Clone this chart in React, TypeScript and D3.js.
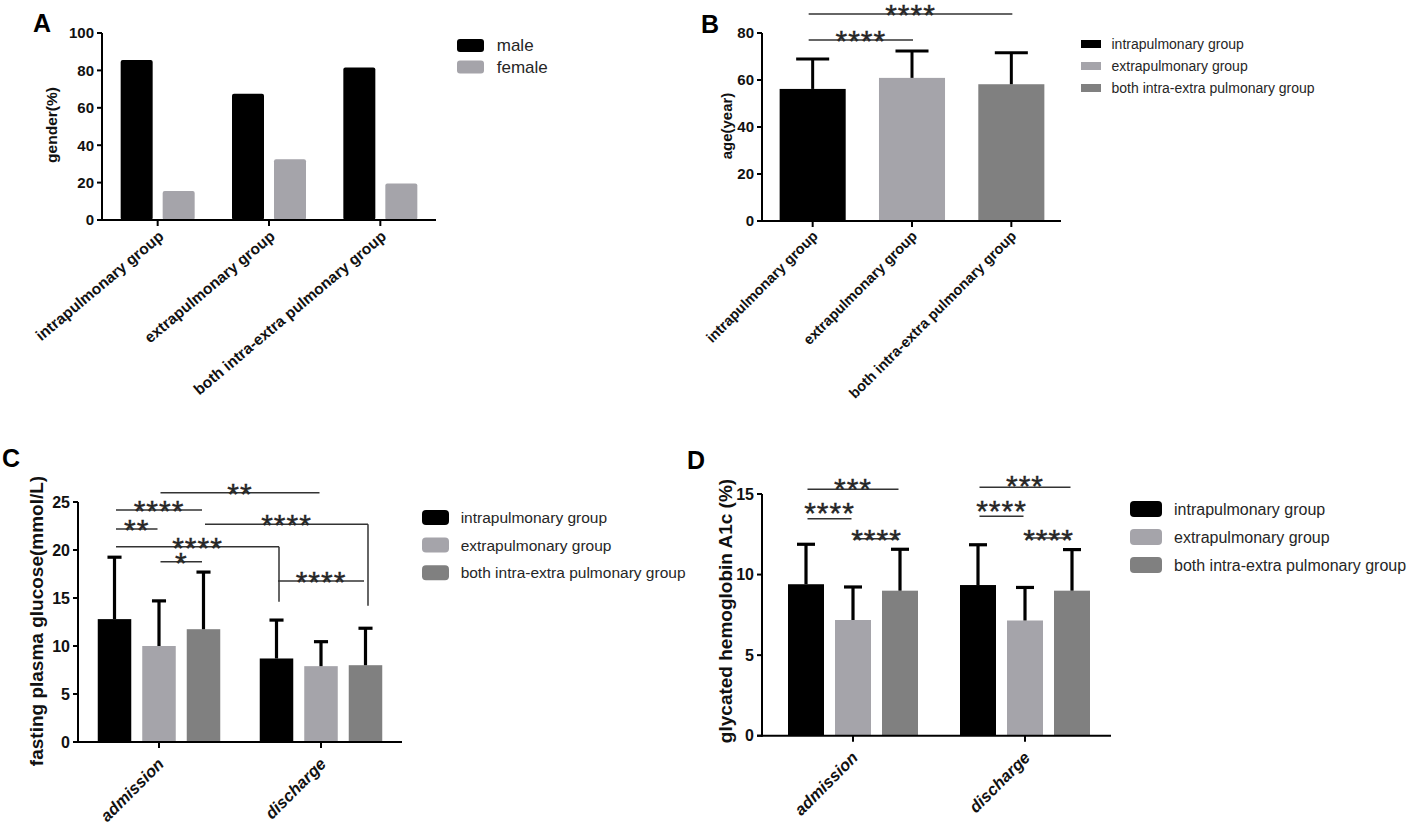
import React from "react";
import * as d3 from "d3";

const FONT = "'Liberation Sans', Arial, Helvetica, sans-serif";

// ---------- Panel A data ----------
const groupNames = ["intrapulmonary group", "extrapulmonary group", "both intra-extra pulmonary group"];
const genderNames = ["male", "female"];
const malePct = [85.5, 67.5, 81.5];
const femalePct = [15.5, 32.5, 19.5];
const genderTicks = [0, 20, 40, 60, 80, 100];

// ---------- Panel B data ----------
const ageMean = [56.2, 60.9, 58.2];
const ageSd = [12.7, 11.4, 13.4];
const ageTicks = [0, 20, 40, 60, 80];
const ageSig = [
  { a: 0, b: 1, y: 77.0, label: "****" },
  { a: 0, b: 2, y: 88.1, label: "****" },
];

// ---------- Panel C / D shared ----------
const timepoints = ["admission", "discharge"];
const seriesNames = ["intrapulmonary group", "extrapulmonary group", "both intra-extra pulmonary group"];

// ---------- Panel C data ----------
const fpgMeanIntra = [12.8, 8.7];
const fpgMeanExtra = [10.0, 7.9];
const fpgMeanBoth = [11.75, 8.0];
const fpgSdIntra = [6.45, 4.0];
const fpgSdExtra = [4.7, 2.55];
const fpgSdBoth = [5.95, 3.85];
const fpgTicks = [0, 5, 10, 15, 20, 25];
// a/b = [timepoint index, series index]
const fpgSig = [
  { a: [0, 1], b: [1, 1], y: 25.97, label: "**" },
  { a: [0, 0], b: [0, 2], y: 24.17, label: "****" },
  { a: [0, 0], b: [0, 1], y: 22.19, label: "**" },
  { a: [0, 0], b: [1, 0], y: 20.34, label: "****", drop: 14.6 },
  { a: [0, 1], b: [0, 2], y: 18.78, label: "*" },
  { a: [0, 2], b: [1, 2], y: 22.68, label: "****", drop: 14.2 },
  { a: [1, 0], b: [1, 2], y: 16.77, label: "****" },
];

// ---------- Panel D data ----------
const hbaMeanIntra = [9.4, 9.35];
const hbaMeanExtra = [7.18, 7.15];
const hbaMeanBoth = [9.0, 9.0];
const hbaSdIntra = [2.48, 2.5];
const hbaSdExtra = [2.05, 2.05];
const hbaSdBoth = [2.57, 2.55];
const hbaTicks = [0, 5, 10, 15];
const hbaSig = [
  { a: [0, 0], b: [0, 2], y: 15.3, label: "***", labelY: 15.5 },
  { a: [0, 0], b: [0, 1], y: 13.47, label: "****", labelY: 14.0 },
  { a: [0, 1], b: [0, 2], y: 12.23, label: "****", labelY: 12.3 },
  { a: [1, 0], b: [1, 2], y: 15.42, label: "***", labelY: 15.65 },
  { a: [1, 0], b: [1, 1], y: 13.62, label: "****", labelY: 14.15 },
  { a: [1, 1], b: [1, 2], y: 12.27, label: "****", labelY: 12.3 },
];

const COLORS = ["#000000", "#a5a4aa", "#808080"];
const TXT = "#262626";
const SIG = "#333333";

// ---------- helpers ----------
function YAxis({ x, y, ticks, fs }: any) {
  const [r0, r1] = y.range();
  return (
    <g>
      <line x1={x} x2={x} y1={r0 + 1} y2={r1} stroke="#000" strokeWidth={2} />
      {ticks.map((t: number) => (
        <g key={t}>
          <line x1={x - 5} x2={x} y1={y(t)} y2={y(t)} stroke="#000" strokeWidth={2} />
          <text x={x - 8} y={y(t)} dy="0.36em" textAnchor="end" fontSize={fs} fontWeight="bold" fill="#111">
            {t}
          </text>
        </g>
      ))}
    </g>
  );
}

function XAxis({ x0, x1, y0, centers, labels, fs, italic, angle = 45, ax, ay }: any) {
  return (
    <g>
      <line x1={x0 - 5} x2={x1} y1={y0} y2={y0} stroke="#000" strokeWidth={2} />
      {centers.map((c: number, i: number) => (
        <g key={i}>
          <line x1={c} x2={c} y1={y0} y2={y0 + 6} stroke="#000" strokeWidth={2} />
          <text
            transform={`translate(${c + ax},${y0 + ay}) rotate(${-angle})`}
            textAnchor="end"
            fontSize={fs}
            fontWeight="bold"
            fontStyle={italic ? "italic" : "normal"}
            fill="#111"
          >
            {labels[i]}
          </text>
        </g>
      ))}
    </g>
  );
}

function YLabel({ x, y, text, fs }: any) {
  return (
    <text transform={`translate(${x},${y}) rotate(-90)`} textAnchor="middle" dy="0.35em" fontSize={fs} fontWeight="bold" fill="#111">
      {text}
    </text>
  );
}

function Stars({ x, bottom, label }: any) {
  // asterisk glyph bottom sits ~0.43em above baseline
  const fs = 30;
  return (
    <text x={x} y={bottom + fs * 0.43} textAnchor="middle" fontSize={fs} letterSpacing={1} fill={TXT} stroke={TXT} strokeWidth={0.4}>
      {label}
    </text>
  );
}

function Legend({ x, y0, step, names, colors, bw, bh, rx, fs }: any) {
  return (
    <g>
      {names.map((n: string, i: number) => (
        <g key={n}>
          <rect x={x} y={y0 + i * step - bh / 2} width={bw} height={bh} rx={rx} fill={colors[i]} />
          <text x={x + bw + (fs * 0.75)} y={y0 + i * step} dy="0.35em" fontSize={fs} fill={TXT}>
            {n}
          </text>
        </g>
      ))}
    </g>
  );
}

function PanelLabel({ x, y, t }: any) {
  return (
    <text x={x} y={y} fontSize={25} fontWeight="bold" fill="#000">
      {t}
    </text>
  );
}

// ---------- Panel A ----------
function PanelA() {
  const y = d3.scaleLinear().domain([0, 100]).range([220, 33]);
  const x = d3.scaleBand().domain(groupNames).range([102, 436]);
  const inner = d3.scaleBand().domain(genderNames).range([-37, 37]).paddingInner(0.238);
  const vals = [malePct, femalePct];
  const centers = groupNames.map((g) => x(g)! + x.bandwidth() / 2);
  return (
    <g>
      <PanelLabel x={33} y={32} t="A" />
      {groupNames.map((g, gi) =>
        genderNames.map((s, si) => {
          const v = vals[si][gi];
          return (
            <rect
              key={g + s}
              x={centers[gi] + inner(s)!}
              y={y(v)}
              width={inner.bandwidth()}
              height={y(0) - y(v)}
              rx={2}
              fill={COLORS[si]}
            />
          );
        })
      )}
      <YAxis x={102} y={y} ticks={genderTicks} fs={15} />
      <XAxis x0={102} x1={436} y0={220} centers={centers} labels={groupNames} fs={15.5} angle={40} ax={7} ay={18} />
      <YLabel x={52} y={125} text="gender(%)" fs={15.5} />
      <Legend x={457} y0={45.5} step={21.5} names={genderNames} colors={COLORS} bw={27} bh={13} rx={3} fs={17} />
    </g>
  );
}

// ---------- Panel B ----------
function PanelB() {
  const y = d3.scaleLinear().domain([0, 80]).range([221, 33]);
  const x = d3.scaleBand().domain(groupNames).range([763, 1061]);
  const centers = groupNames.map((g) => x(g)! + x.bandwidth() / 2);
  const bw = x.bandwidth() * 0.665;
  return (
    <g>
      <PanelLabel x={701} y={33} t="B" />
      {groupNames.map((g, i) => (
        <g key={g}>
          <rect x={centers[i] - bw / 2} y={y(ageMean[i])} width={bw} height={y(0) - y(ageMean[i])} fill={COLORS[i]} />
          <line x1={centers[i]} x2={centers[i]} y1={y(ageMean[i])} y2={y(ageMean[i] + ageSd[i])} stroke="#000" strokeWidth={3} />
          <line x1={centers[i] - bw / 4} x2={centers[i] + bw / 4} y1={y(ageMean[i] + ageSd[i])} y2={y(ageMean[i] + ageSd[i])} stroke="#000" strokeWidth={3} />
        </g>
      ))}
      <YAxis x={762} y={y} ticks={ageTicks} fs={15} />
      <XAxis x0={762} x1={1061} y0={221} centers={centers} labels={groupNames} fs={14.5} angle={45} ax={6} ay={16} />
      <YLabel x={727} y={126} text="age(year)" fs={15} />
      {ageSig.map((s, i) => {
        const xa = centers[s.a] - 4;
        const xb = centers[s.b] + 1;
        return (
          <g key={i}>
            <line x1={xa} x2={xb} y1={y(s.y)} y2={y(s.y)} stroke={SIG} strokeWidth={1.5} />
            <Stars x={(xa + xb) / 2} bottom={y(s.y) - 2} label={s.label} />
          </g>
        );
      })}
      <Legend x={1081} y0={44} step={22} names={seriesNames} colors={COLORS} bw={20} bh={8} rx={0} fs={14} />
    </g>
  );
}

// ---------- grouped panel (C, D) ----------
function GroupedPanel({ means, sds, ticks, sig, y, xRange, innerHalf, pad, axisX, capFrac, ylabel, ylx, yly, ylfs, tickFs, legend, letter }: any) {
  const x = d3.scaleBand().domain(timepoints).range(xRange);
  const inner = d3.scaleBand().domain(seriesNames).range([-innerHalf, innerHalf]).paddingInner(pad);
  const gc = timepoints.map((t) => x(t)! + x.bandwidth() / 2);
  const bw = inner.bandwidth();
  const cx = (g: number, s: number) => gc[g] + inner(seriesNames[s])! + bw / 2;
  const cap = bw * capFrac;
  return (
    <g>
      <PanelLabel x={letter.x} y={letter.y} t={letter.t} />
      {timepoints.map((t, gi) =>
        seriesNames.map((s, si) => {
          const m = means[si][gi];
          const top = m + sds[si][gi];
          const c = cx(gi, si);
          return (
            <g key={t + s}>
              <rect x={c - bw / 2} y={y(m)} width={bw} height={y(0) - y(m)} fill={COLORS[si]} />
              <line x1={c} x2={c} y1={y(m)} y2={y(top)} stroke="#000" strokeWidth={3.2} />
              <line x1={c - cap / 2} x2={c + cap / 2} y1={y(top)} y2={y(top)} stroke="#000" strokeWidth={3.2} />
            </g>
          );
        })
      )}
      <YAxis x={axisX} y={y} ticks={ticks} fs={tickFs} />
      <XAxis x0={axisX} x1={xRange[1]} y0={y(0)} centers={gc} labels={timepoints} fs={16.5} italic angle={45} ax={6} ay={23} />
      <YLabel x={ylx} y={yly} text={ylabel} fs={ylfs} />
      {sig.map((s: any, i: number) => {
        const xa = cx(s.a[0], s.a[1]) + 1.5;
        const xb = cx(s.b[0], s.b[1]) + (s.drop !== undefined ? 2.5 : -1.5);
        const ly = y(s.y);
        const bottom = s.labelY !== undefined ? y(s.labelY) : ly - 2;
        return (
          <g key={i}>
            <line x1={xa} x2={xb} y1={ly} y2={ly} stroke={SIG} strokeWidth={1.5} />
            {s.drop !== undefined && <line x1={xb} x2={xb} y1={ly} y2={y(s.drop)} stroke={SIG} strokeWidth={1.5} />}
            <Stars x={(xa + xb) / 2} bottom={bottom} label={s.label} />
          </g>
        );
      })}
      <Legend {...legend} names={seriesNames} colors={COLORS} rx={4} />
    </g>
  );
}

function PanelC() {
  const y = d3.scaleLinear().domain([0, 25]).range([742, 502]);
  return (
    <GroupedPanel
      means={[fpgMeanIntra, fpgMeanExtra, fpgMeanBoth]}
      sds={[fpgSdIntra, fpgSdExtra, fpgSdBoth]}
      ticks={fpgTicks}
      sig={fpgSig}
      y={y}
      xRange={[78, 402]}
      innerHalf={61.25}
      pad={0.247}
      axisX={78}
      capFrac={0.42}
      ylabel="fasting plasma glucose(mmol/L)"
      ylx={36}
      yly={621}
      ylfs={19}
      tickFs={16}
      legend={{ x: 422, y0: 517.5, step: 27.6, bw: 27, bh: 15, fs: 15.5 }}
      letter={{ x: 2, y: 467, t: "C" }}
    />
  );
}

function PanelD() {
  const y = d3.scaleLinear().domain([0, 15]).range([735.7, 494]);
  return (
    <GroupedPanel
      means={[hbaMeanIntra, hbaMeanExtra, hbaMeanBoth]}
      sds={[hbaSdIntra, hbaSdExtra, hbaSdBoth]}
      ticks={hbaTicks}
      sig={hbaSig}
      y={y}
      xRange={[767, 1111]}
      innerHalf={65}
      pad={0.234}
      axisX={762}
      capFrac={0.5}
      ylabel="glycated hemoglobin A1c (%)"
      ylx={725}
      yly={611}
      ylfs={19}
      tickFs={16}
      legend={{ x: 1130, y0: 509, step: 28, bw: 32, bh: 16, fs: 16 }}
      letter={{ x: 687, y: 469, t: "D" }}
    />
  );
}

export default function App() {
  return (
    <svg
      width={1417}
      height={826}
      viewBox="0 0 1417 826"
      style={{ position: "absolute", left: 0, top: 0, background: "#fff" }}
      fontFamily={FONT}
    >
      <rect x={0} y={0} width={1417} height={826} fill="#fff" />
      <PanelA />
      <PanelB />
      <PanelC />
      <PanelD />
    </svg>
  );
}
